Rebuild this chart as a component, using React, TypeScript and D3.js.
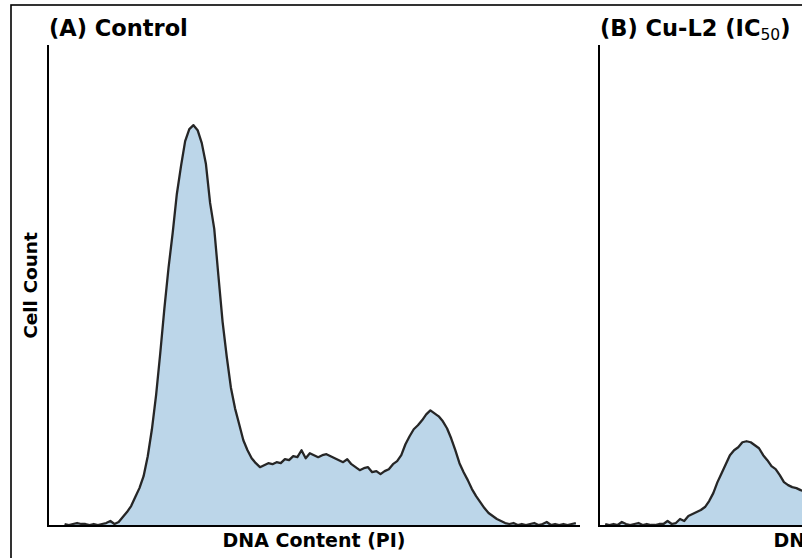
import React from "react";
import * as d3 from "d3";

// histogram counts, one value per 8-channel bin
const BIN_WIDTH = 8;
const controlStart = 32;
const controlCounts = [
  2, 1, 2, 3, 2, 2, 1, 2, 1, 2, 3, 5, 2, 4, 9, 14, 20, 29, 38, 50,
  70, 97, 131, 173, 218, 259, 294, 333, 361, 386, 398, 402, 397, 384, 363, 324, 298, 251, 205, 170,
  139, 118, 102, 86, 76, 68, 63, 59, 61, 63, 62, 64, 63, 67, 66, 70, 69, 76, 68, 73,
  71, 69, 71, 72, 70, 68, 66, 64, 67, 62, 59, 56, 58, 59, 54, 55, 52, 55, 57, 62,
  65, 71, 82, 90, 97, 101, 106, 112, 116, 113, 110, 105, 98, 88, 76, 63, 54, 46, 37, 30,
  24, 18, 13, 10, 7, 5, 3, 2, 3, 1, 2, 1, 2, 3, 1, 2, 4, 1, 2, 1,
  2, 1, 2, 3,
];
const cuStart = 12;
const cuCounts = [
  2, 1, 2, 1, 4, 2, 1, 2, 3, 1, 2, 1, 1, 2, 2, 5, 2, 3, 7, 5,
  10, 12, 14, 16, 19, 25, 33, 44, 53, 62, 71, 76, 79, 84, 85, 84, 81, 78, 71, 66,
  60, 57, 51, 44, 41, 39, 38, 36, 35, 33,
];

const panels = [
  { key: "A", label: "(A) Control", sub: "", tail: "", left: 48, start: controlStart, counts: controlCounts },
  { key: "B", label: "(B) Cu-L2 (IC", sub: "50", tail: ")", left: 599, start: cuStart, counts: cuCounts },
];

const top = 45;
const width = 532;
const height = 481;
const font = "'DejaVu Sans', sans-serif";

export default function App() {
  const yMax = (d3.max(controlCounts) as number) * 1.2;
  const x = d3.scaleLinear().domain([0, 1024]).range([0, width]);
  const y = d3.scaleLinear().domain([0, yMax]).range([height, 0]);

  return (
    <svg width={802} height={558} style={{ position: "absolute", left: 0, top: 0 }} fontFamily={font}>
      <rect x={0} y={0} width={802} height={558} fill="#fff" />
      <rect x={11} y={5} width={1200} height={1000} fill="none" stroke="#000" strokeWidth={1.6} />
      <text x={31} y={285.5} transform="rotate(-90 31 285.5)" dy="0.35em" textAnchor="middle"
        fontWeight="bold" fontSize={18.5}>Cell Count</text>
      {panels.map((p) => {
        const pts = p.counts.map((c, i) => [p.start + i * BIN_WIDTH, c] as [number, number]);
        const area = d3.area<[number, number]>().x((d) => x(d[0])).y0(height).y1((d) => y(d[1]));
        const line = d3.line<[number, number]>().x((d) => x(d[0])).y((d) => y(d[1]));
        return (
          <g key={p.key} transform={`translate(${p.left},${top})`}>
            <path d={area(pts) || ""} fill="#bcd6e9" />
            <path d={line(pts) || ""} fill="none" stroke="#262626" strokeWidth={2.3} strokeLinejoin="round" />
            <line x1={0} x2={0} y1={0} y2={height} stroke="#000" strokeWidth={2} />
            <line x1={-1} x2={width} y1={height} y2={height} stroke="#000" strokeWidth={2.2} />
            <text x={1} y={-9} fontWeight="bold" fontSize={22.5}>
              {p.label}
              {p.sub && <tspan fontWeight="normal" fontSize={15.5} dy={4}>{p.sub}</tspan>}
              {p.tail && <tspan dy={-4}>{p.tail}</tspan>}
            </text>
            <text x={width / 2} y={height + 21} textAnchor="middle" fontWeight="bold" fontSize={19}>
              DNA Content (PI)
            </text>
          </g>
        );
      })}
    </svg>
  );
}
